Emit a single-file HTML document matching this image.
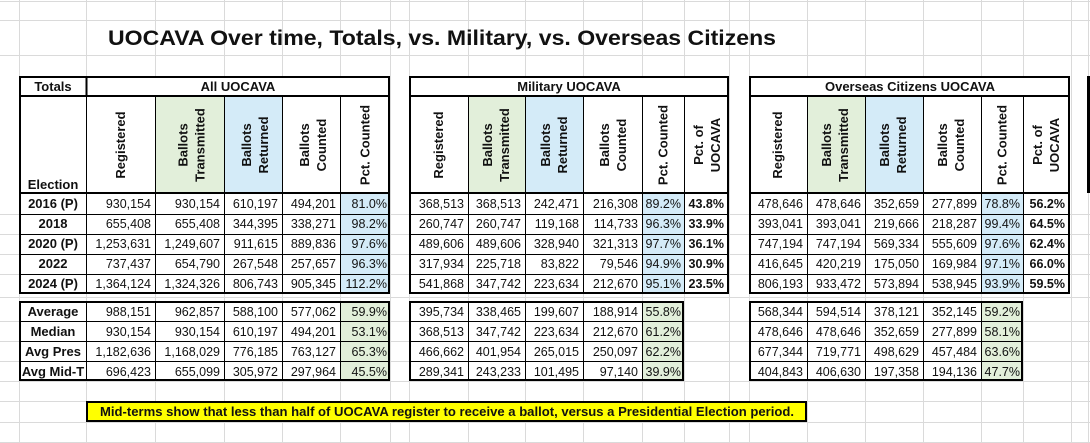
<!DOCTYPE html>
<html><head><meta charset="utf-8"><style>
html,body{margin:0;padding:0;background:#fff;}
svg{display:block;}
text{font-family:"Liberation Sans",sans-serif;font-size:12.5px;fill:#111;}
.b{font-weight:bold;}
.h{font-weight:bold;font-size:13px;}
.g{stroke:#dadada;stroke-width:1;}
</style></head><body>
<svg width="1090" height="443" viewBox="0 0 1090 443" xmlns="http://www.w3.org/2000/svg">
<g class="g">
<line x1="0" y1="1.5" x2="1090" y2="1.5"/><line x1="0" y1="20.5" x2="1090" y2="20.5"/><line x1="0" y1="55.5" x2="1090" y2="55.5"/>
<line x1="0" y1="297.5" x2="1090" y2="297.5"/><line x1="0" y1="381.5" x2="1090" y2="381.5"/><line x1="0" y1="401.5" x2="1090" y2="401.5"/><line x1="0" y1="422.5" x2="1090" y2="422.5"/><line x1="0" y1="442.5" x2="1090" y2="442.5"/>
<line x1="0" y1="321.5" x2="1090" y2="321.5"/><line x1="0" y1="341.5" x2="1090" y2="341.5"/><line x1="0" y1="361.5" x2="1090" y2="361.5"/>
<line x1="0" y1="214.5" x2="1090" y2="214.5"/><line x1="0" y1="234.5" x2="1090" y2="234.5"/><line x1="0" y1="254.5" x2="1090" y2="254.5"/><line x1="0" y1="274.5" x2="1090" y2="274.5"/>
<line x1="19.5" y1="0" x2="19.5" y2="443"/><line x1="86.5" y1="0" x2="86.5" y2="443"/><line x1="155.5" y1="0" x2="155.5" y2="443"/><line x1="224.5" y1="0" x2="224.5" y2="443"/><line x1="282.5" y1="0" x2="282.5" y2="443"/><line x1="340.5" y1="0" x2="340.5" y2="443"/><line x1="390.5" y1="0" x2="390.5" y2="443"/>
<line x1="409.5" y1="0" x2="409.5" y2="443"/><line x1="468.5" y1="0" x2="468.5" y2="443"/><line x1="525.5" y1="0" x2="525.5" y2="443"/><line x1="583.5" y1="0" x2="583.5" y2="443"/><line x1="642.5" y1="0" x2="642.5" y2="443"/><line x1="684.5" y1="0" x2="684.5" y2="443"/><line x1="729.5" y1="0" x2="729.5" y2="443"/>
<line x1="749.5" y1="0" x2="749.5" y2="443"/><line x1="807.5" y1="0" x2="807.5" y2="443"/><line x1="865.5" y1="0" x2="865.5" y2="443"/><line x1="923.5" y1="0" x2="923.5" y2="443"/><line x1="981.5" y1="0" x2="981.5" y2="443"/><line x1="1023.5" y1="0" x2="1023.5" y2="443"/><line x1="1071.5" y1="0" x2="1071.5" y2="443"/><line x1="1088.5" y1="0" x2="1088.5" y2="443"/>
</g>
<rect x="1087" y="76" width="3" height="117" fill="#000"/>

<text x="108" y="45" class="b" style="font-size:21px" textLength="668" lengthAdjust="spacingAndGlyphs">UOCAVA Over time, Totals, vs. Military, vs. Overseas Citizens</text>

<g>
<rect x="19" y="76" width="371" height="218" fill="#fff"/>
<rect x="409" y="76" width="320" height="218" fill="#fff"/>
<rect x="749" y="76" width="321" height="218" fill="#fff"/>
<rect x="19" y="301" width="371" height="80" fill="#fff"/>
<rect x="409" y="301" width="275" height="80" fill="#fff"/>
<rect x="749" y="301" width="274" height="80" fill="#fff"/>
<rect x="155" y="96" width="69" height="97" fill="#e2efda"/><rect x="224" y="96" width="58" height="97" fill="#d4ebf8"/>
<rect x="468" y="96" width="57" height="97" fill="#e2efda"/><rect x="525" y="96" width="58" height="97" fill="#d4ebf8"/>
<rect x="807" y="96" width="58" height="97" fill="#e2efda"/><rect x="865" y="96" width="58" height="97" fill="#d4ebf8"/>
<rect x="340" y="193" width="50" height="101" fill="#d4ebf8"/><rect x="642" y="193" width="42" height="101" fill="#d4ebf8"/><rect x="981" y="193" width="42" height="101" fill="#d4ebf8"/>
<rect x="340" y="301" width="50" height="80" fill="#e2efda"/><rect x="642" y="301" width="42" height="80" fill="#e2efda"/><rect x="981" y="301" width="42" height="80" fill="#e2efda"/>
</g>

<g stroke="#000" stroke-width="1" fill="none">
<path d="M86.5 76V294 M155.5 96V294 M224.5 96V294 M282.5 96V294 M340.5 96V294"/>
<path d="M19 214.5H390 M19 234.5H390 M19 254.5H390 M19 274.5H390"/>
<path d="M86.5 301V381 M155.5 301V381 M224.5 301V381 M282.5 301V381 M340.5 301V381 M19 321.5H390 M19 341.5H390 M19 361.5H390"/>
<path d="M468.5 96V294 M525.5 96V294 M583.5 96V294 M642.5 96V294 M684.5 96V294"/>
<path d="M409 214.5H729 M409 234.5H729 M409 254.5H729 M409 274.5H729"/>
<path d="M468.5 301V381 M525.5 301V381 M583.5 301V381 M642.5 301V381 M409 321.5H684 M409 341.5H684 M409 361.5H684"/>
<path d="M807.5 96V294 M865.5 96V294 M923.5 96V294 M981.5 96V294 M1023.5 96V294"/>
<path d="M749 214.5H1070 M749 234.5H1070 M749 254.5H1070 M749 274.5H1070"/>
<path d="M807.5 301V381 M865.5 301V381 M923.5 301V381 M981.5 301V381 M749 321.5H1023 M749 341.5H1023 M749 361.5H1023"/>
</g>
<g stroke="#000" stroke-width="2" fill="none">
<rect x="20" y="77" width="369" height="216"/><path d="M19 96H390 M19 193H390 M86.5 76V96"/>
<rect x="20" y="302" width="369" height="78"/>
<rect x="410" y="77" width="318" height="216"/><path d="M409 96H729 M409 193H729"/>
<rect x="410" y="302" width="273" height="78"/>
<rect x="750" y="77" width="319" height="216"/><path d="M749 96H1070 M749 193H1070"/>
<rect x="750" y="302" width="272" height="78"/>
</g>

<g class="h" text-anchor="middle">
<text x="53" y="91" class="h">Totals</text>
<text x="238" y="91" class="h">All UOCAVA</text>
<text x="569" y="91" class="h">Military UOCAVA</text>
<text x="910" y="91" class="h">Overseas Citizens UOCAVA</text>
<text x="53" y="189" class="h">Election</text>
</g>
<g class="h" text-anchor="middle">
<text class="h" transform="translate(125,145) rotate(-90)">Registered</text>
<text class="h" transform="translate(187.5,145) rotate(-90)">Ballots</text>
<text class="h" transform="translate(204.5,145) rotate(-90)">Transmitted</text>
<text class="h" transform="translate(251,145) rotate(-90)">Ballots</text>
<text class="h" transform="translate(268,145) rotate(-90)">Returned</text>
<text class="h" transform="translate(309,145) rotate(-90)">Ballots</text>
<text class="h" transform="translate(326,145) rotate(-90)">Counted</text>
<text class="h" transform="translate(369.5,145) rotate(-90)">Pct. Counted</text>

<text class="h" transform="translate(443,145) rotate(-90)">Registered</text>
<text class="h" transform="translate(492,145) rotate(-90)">Ballots</text>
<text class="h" transform="translate(509,145) rotate(-90)">Transmitted</text>
<text class="h" transform="translate(550,145) rotate(-90)">Ballots</text>
<text class="h" transform="translate(567,145) rotate(-90)">Returned</text>
<text class="h" transform="translate(609,145) rotate(-90)">Ballots</text>
<text class="h" transform="translate(626,145) rotate(-90)">Counted</text>
<text class="h" transform="translate(667.5,145) rotate(-90)">Pct. Counted</text>
<text class="h" transform="translate(703,145) rotate(-90)">Pct. of</text>
<text class="h" transform="translate(720,145) rotate(-90)">UOCAVA</text>

<text class="h" transform="translate(782,145) rotate(-90)">Registered</text>
<text class="h" transform="translate(831,145) rotate(-90)">Ballots</text>
<text class="h" transform="translate(848,145) rotate(-90)">Transmitted</text>
<text class="h" transform="translate(889,145) rotate(-90)">Ballots</text>
<text class="h" transform="translate(906,145) rotate(-90)">Returned</text>
<text class="h" transform="translate(947,145) rotate(-90)">Ballots</text>
<text class="h" transform="translate(964,145) rotate(-90)">Counted</text>
<text class="h" transform="translate(1006.5,145) rotate(-90)">Pct. Counted</text>
<text class="h" transform="translate(1042,145) rotate(-90)">Pct. of</text>
<text class="h" transform="translate(1059,145) rotate(-90)">UOCAVA</text>
</g>

<g text-anchor="middle">
<text class="h" x="53" y="208">2016 (P)</text>
<text class="h" x="53" y="228">2018</text>
<text class="h" x="53" y="248">2020 (P)</text>
<text class="h" x="53" y="268">2022</text>
<text class="h" x="53" y="288">2024 (P)</text>
<text class="h" x="53" y="316">Average</text>
<text class="h" x="53" y="336">Median</text>
<text class="h" x="53" y="356">Avg Pres</text>
<text class="h" x="53" y="376">Avg Mid-T</text>
</g>

<g text-anchor="end">
<text x="151" y="208">930,154</text><text x="220" y="208">930,154</text><text x="278" y="208">610,197</text><text x="336" y="208">494,201</text><text x="387" y="208">81.0%</text>
<text x="151" y="228">655,408</text><text x="220" y="228">655,408</text><text x="278" y="228">344,395</text><text x="336" y="228">338,271</text><text x="387" y="228">98.2%</text>
<text x="151" y="248">1,253,631</text><text x="220" y="248">1,249,607</text><text x="278" y="248">911,615</text><text x="336" y="248">889,836</text><text x="387" y="248">97.6%</text>
<text x="151" y="268">737,437</text><text x="220" y="268">654,790</text><text x="278" y="268">267,548</text><text x="336" y="268">257,657</text><text x="387" y="268">96.3%</text>
<text x="151" y="288">1,364,124</text><text x="220" y="288">1,324,326</text><text x="278" y="288">806,743</text><text x="336" y="288">905,345</text><text x="387" y="288">112.2%</text>
<text x="151" y="316">988,151</text><text x="220" y="316">962,857</text><text x="278" y="316">588,100</text><text x="336" y="316">577,062</text><text x="387" y="316">59.9%</text>
<text x="151" y="336">930,154</text><text x="220" y="336">930,154</text><text x="278" y="336">610,197</text><text x="336" y="336">494,201</text><text x="387" y="336">53.1%</text>
<text x="151" y="356">1,182,636</text><text x="220" y="356">1,168,029</text><text x="278" y="356">776,185</text><text x="336" y="356">763,127</text><text x="387" y="356">65.3%</text>
<text x="151" y="376">696,423</text><text x="220" y="376">655,099</text><text x="278" y="376">305,972</text><text x="336" y="376">297,964</text><text x="387" y="376">45.5%</text>

<text x="464" y="208">368,513</text><text x="521" y="208">368,513</text><text x="579" y="208">242,471</text><text x="638" y="208">216,308</text><text x="681" y="208">89.2%</text><text class="b" x="724" y="208">43.8%</text>
<text x="464" y="228">260,747</text><text x="521" y="228">260,747</text><text x="579" y="228">119,168</text><text x="638" y="228">114,733</text><text x="681" y="228">96.3%</text><text class="b" x="724" y="228">33.9%</text>
<text x="464" y="248">489,606</text><text x="521" y="248">489,606</text><text x="579" y="248">328,940</text><text x="638" y="248">321,313</text><text x="681" y="248">97.7%</text><text class="b" x="724" y="248">36.1%</text>
<text x="464" y="268">317,934</text><text x="521" y="268">225,718</text><text x="579" y="268">83,822</text><text x="638" y="268">79,546</text><text x="681" y="268">94.9%</text><text class="b" x="724" y="268">30.9%</text>
<text x="464" y="288">541,868</text><text x="521" y="288">347,742</text><text x="579" y="288">223,634</text><text x="638" y="288">212,670</text><text x="681" y="288">95.1%</text><text class="b" x="724" y="288">23.5%</text>
<text x="464" y="316">395,734</text><text x="521" y="316">338,465</text><text x="579" y="316">199,607</text><text x="638" y="316">188,914</text><text x="681" y="316">55.8%</text>
<text x="464" y="336">368,513</text><text x="521" y="336">347,742</text><text x="579" y="336">223,634</text><text x="638" y="336">212,670</text><text x="681" y="336">61.2%</text>
<text x="464" y="356">466,662</text><text x="521" y="356">401,954</text><text x="579" y="356">265,015</text><text x="638" y="356">250,097</text><text x="681" y="356">62.2%</text>
<text x="464" y="376">289,341</text><text x="521" y="376">243,233</text><text x="579" y="376">101,495</text><text x="638" y="376">97,140</text><text x="681" y="376">39.9%</text>

<text x="803" y="208">478,646</text><text x="861" y="208">478,646</text><text x="919" y="208">352,659</text><text x="977" y="208">277,899</text><text x="1020" y="208">78.8%</text><text class="b" x="1065" y="208">56.2%</text>
<text x="803" y="228">393,041</text><text x="861" y="228">393,041</text><text x="919" y="228">219,666</text><text x="977" y="228">218,287</text><text x="1020" y="228">99.4%</text><text class="b" x="1065" y="228">64.5%</text>
<text x="803" y="248">747,194</text><text x="861" y="248">747,194</text><text x="919" y="248">569,334</text><text x="977" y="248">555,609</text><text x="1020" y="248">97.6%</text><text class="b" x="1065" y="248">62.4%</text>
<text x="803" y="268">416,645</text><text x="861" y="268">420,219</text><text x="919" y="268">175,050</text><text x="977" y="268">169,984</text><text x="1020" y="268">97.1%</text><text class="b" x="1065" y="268">66.0%</text>
<text x="803" y="288">806,193</text><text x="861" y="288">933,472</text><text x="919" y="288">573,894</text><text x="977" y="288">538,945</text><text x="1020" y="288">93.9%</text><text class="b" x="1065" y="288">59.5%</text>
<text x="803" y="316">568,344</text><text x="861" y="316">594,514</text><text x="919" y="316">378,121</text><text x="977" y="316">352,145</text><text x="1020" y="316">59.2%</text>
<text x="803" y="336">478,646</text><text x="861" y="336">478,646</text><text x="919" y="336">352,659</text><text x="977" y="336">277,899</text><text x="1020" y="336">58.1%</text>
<text x="803" y="356">677,344</text><text x="861" y="356">719,771</text><text x="919" y="356">498,629</text><text x="977" y="356">457,484</text><text x="1020" y="356">63.6%</text>
<text x="803" y="376">404,843</text><text x="861" y="376">406,630</text><text x="919" y="376">197,358</text><text x="977" y="376">194,136</text><text x="1020" y="376">47.7%</text>
</g>

<rect x="87" y="402" width="719" height="19" fill="#ffff00" stroke="#000" stroke-width="2"/>
<text class="b" x="100" y="416" textLength="694" lengthAdjust="spacingAndGlyphs">Mid-terms show that less than half of UOCAVA register to receive a ballot, versus a Presidential Election period.</text>
</svg>
</body></html>
